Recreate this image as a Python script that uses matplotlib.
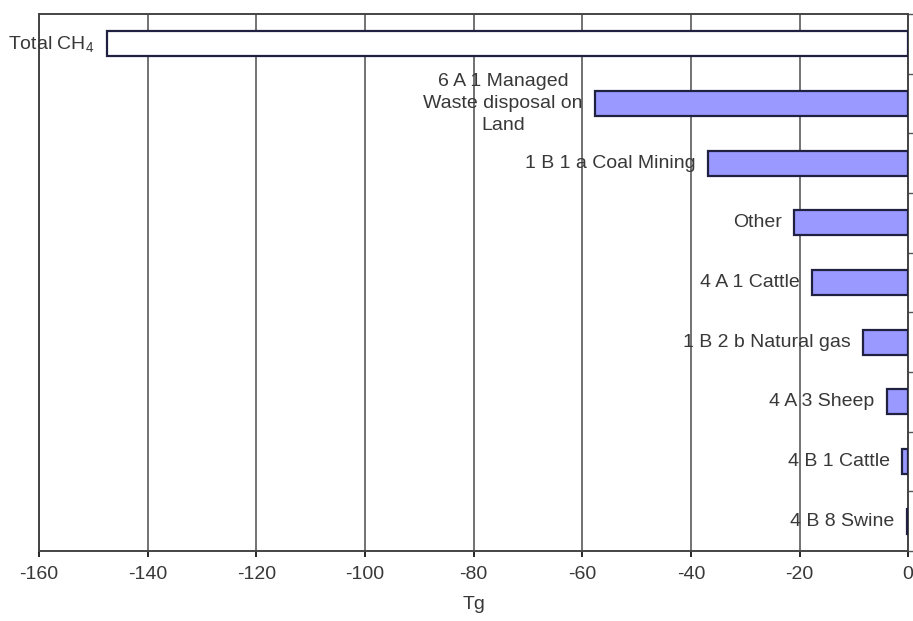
import numpy as np
import matplotlib
matplotlib.use("Agg")
import matplotlib.pyplot as plt

# ---------------------------------
# Data
# ---------------------------------
categories = [
    "Total CH$_4$",
    "6 A 1 Managed\nWaste disposal on\nLand",
    "1 B 1 a Coal Mining",
    "Other",
    "4 A 1 Cattle",
    "1 B 2 b Natural gas",
    "4 A 3 Sheep",
    "4 B 1 Cattle",
    "4 B 8 Swine",
]
values = [-147.5, -57.6, -36.8, -21.0, -17.7, -8.3, -3.9, -1.1, -0.3]
x_ticks = [-160, -140, -120, -100, -80, -60, -40, -20, 0]

plt.rcParams['font.family'] = ['Liberation Sans', 'DejaVu Sans']
plt.rcParams['mathtext.fontset'] = 'custom'
plt.rcParams['mathtext.rm'] = 'Liberation Sans'
plt.rcParams['mathtext.it'] = 'Liberation Sans:italic'

text_color = '#383838'

fig = plt.figure(figsize=(9.13, 6.21), dpi=100)
ax = fig.add_axes([0.0427, 0.1127, 0.952, 0.8648])

y = np.arange(len(categories))
colors = ['white'] + ['#9999ff'] * (len(categories) - 1)
ax.barh(y, values, height=0.42, color=colors, edgecolor='#202040',
        linewidth=1.6, zorder=3)

# labels to the left of each bar
for yi, v, lab in zip(y, values, categories):
    ax.annotate(lab, xy=(v, yi), xytext=(-9, 0), textcoords='offset points',
                ha='right', va='center', multialignment='center',
                fontsize=14, color=text_color, zorder=4,
                linespacing=1.35)

ax.set_xlim(-160, 0)
ax.set_ylim(len(categories) - 0.5, -0.5)
ax.set_xticks(x_ticks)
ax.set_xticklabels([str(t) for t in x_ticks])
ax.tick_params(axis='x', direction='out', length=4, width=1.2,
               labelsize=14, labelcolor=text_color, pad=7)

# y-axis lives at x = 0 (right side), ticks between categories
ax.yaxis.tick_right()
ax.set_yticks(np.arange(-0.5, len(categories) + 0.5, 1.0))
ax.set_yticklabels([])
ax.tick_params(axis='y', direction='out', length=4, width=1.0, color='#555555')

ax.grid(True, axis='x', color='#5a5a5a', linewidth=1.2, zorder=0)
ax.set_axisbelow(True)
for s in ax.spines.values():
    s.set_color('#444444')
    s.set_linewidth(1.4)

ax.set_xlabel('Tg', fontsize=14, color=text_color, labelpad=9)

fig.savefig('out.png', dpi=100)
